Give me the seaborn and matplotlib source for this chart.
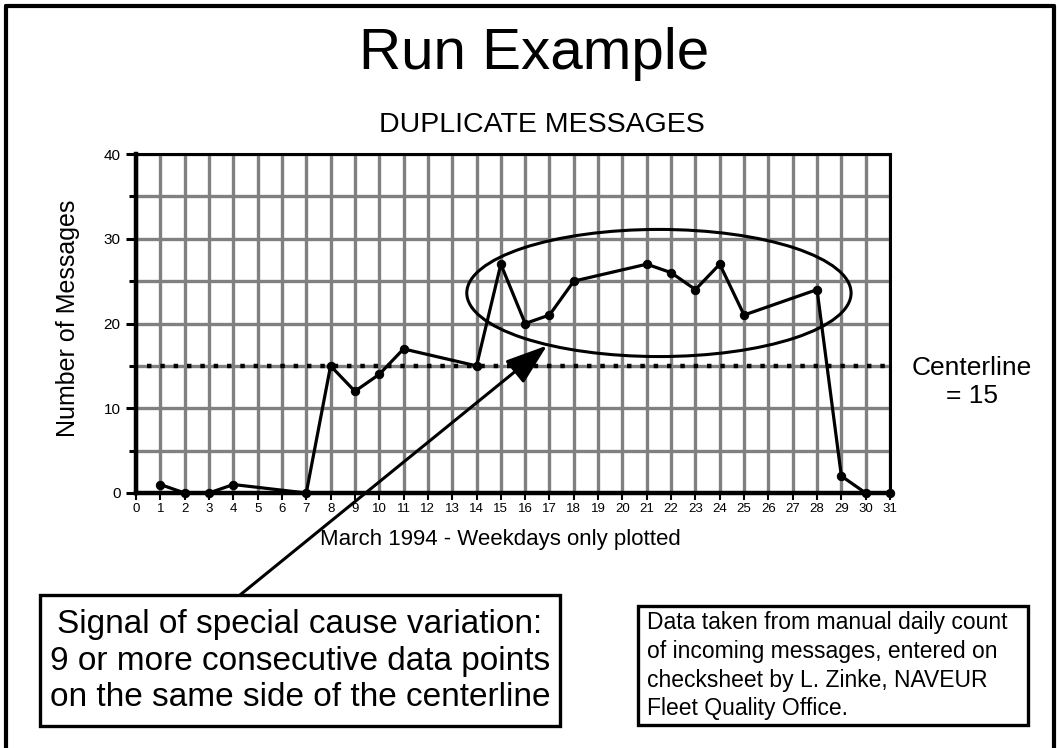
import numpy as np
import pandas as pd
import matplotlib
matplotlib.use("Agg")
import matplotlib.pyplot as plt
import seaborn as sns
from matplotlib.patches import Ellipse, Rectangle
from matplotlib.lines import Line2D

# ---- data ----
days = [1, 2, 3, 4, 7, 8, 9, 10, 11, 14, 15, 16, 17, 18, 21, 22, 23, 24, 25, 28, 29, 30, 31]
messages = [1, 0, 0, 1, 0, 15, 12, 14, 17, 15, 27, 20, 21, 25, 27, 26, 24, 27, 21, 24, 2, 0, 0]
centerline = 15
x_ticks = list(range(0, 32))
y_ticks = [0, 10, 20, 30, 40]
y_minor = [5, 15, 25, 35]

title = "Run Example"
subtitle = "DUPLICATE MESSAGES"
x_label = "March 1994 - Weekdays only plotted"
y_label = "Number of Messages"
center_text = "Centerline\n= 15"
signal_text = ["Signal of special cause variation:",
               "9 or more consecutive data points",
               "on the same side of the centerline"]
note_text = ["Data taken from manual daily count",
             "of incoming messages, entered on",
             "checksheet by L. Zinke, NAVEUR",
             "Fleet Quality Office."]

sns.set_theme(style="white")
plt.rcParams["font.family"] = ["Liberation Sans", "DejaVu Sans"]
plt.rcParams["text.color"] = "black"
plt.rcParams["axes.labelcolor"] = "black"
plt.rcParams["xtick.color"] = "black"
plt.rcParams["ytick.color"] = "black"

W, H = 1059, 748
fig = plt.figure(figsize=(W / 100, H / 100), dpi=100)
fig.patch.set_facecolor("white")

def fx(px):
    return px / W

def fy(py):
    return 1 - py / H

ax = fig.add_axes([fx(136), fy(493), fx(890) - fx(136), fy(154) - fy(493)])
df = pd.DataFrame({"day": days, "messages": messages})

ax.set_xlim(0, 31)
ax.set_ylim(0, 40)
ax.set_xticks(x_ticks)
ax.set_yticks(y_ticks)
ax.set_yticks(y_minor, minor=True)
ax.grid(True, which="major", axis="both", color="#808080", lw=2.4)
ax.grid(True, which="minor", axis="y", color="#808080", lw=2.4)
ax.set_axisbelow(True)

sns.lineplot(data=df, x="day", y="messages", ax=ax, color="black", lw=2.3,
             marker="o", markersize=6, markeredgecolor="black",
             markerfacecolor="black", clip_on=False, zorder=6)

# centerline
ax.plot([0.45, 31], [centerline, centerline], color="black", lw=3.2,
        linestyle=(0, (1, 2.0)), clip_on=False, zorder=4)

# ellipse around the run
ax.add_patch(Ellipse((21.5, 23.6), 15.8, 15.0, fill=False, edgecolor="black",
                     lw=2.2, zorder=5))

for side, lw in [("left", 3.2), ("bottom", 3.2), ("top", 2.2), ("right", 2.2)]:
    ax.spines[side].set_visible(True)
    ax.spines[side].set_color("black")
    ax.spines[side].set_linewidth(lw)

ax.tick_params(axis="x", which="major", direction="out", length=5, width=1.5,
               colors="black", labelsize=9.5, pad=2, bottom=True)
ax.tick_params(axis="y", which="major", direction="out", length=7, width=2.2,
               colors="black", labelsize=11, pad=4, left=True)
ax.tick_params(axis="y", which="minor", direction="out", length=5, width=2.2,
               colors="black", left=True)

ax.set_xlabel("")
ax.set_ylabel("")

fig.text(fx(500), fy(540), x_label, fontsize=16, ha="center", va="center",
         color="black")
fig.text(fx(68), fy(318), y_label, fontsize=18, ha="center", va="center",
         rotation=90, color="black")
fig.text(fx(534), fy(69), title, fontsize=42, ha="center", va="baseline",
         color="black")
fig.text(fx(542), fy(132), subtitle, fontsize=20.5, ha="center", va="baseline",
         color="black")
fig.text(fx(972), fy(382), center_text, fontsize=19, ha="center", va="center",
         linespacing=1.25, color="black")

# arrow from the signal box to the run
ax.annotate("", xy=(16.9, 17.4), xycoords="data",
            xytext=(fx(240), fy(595)), textcoords="figure fraction",
            arrowprops=dict(arrowstyle="-|>,head_length=1.3,head_width=0.45",
                            lw=2.2, color="black", mutation_scale=20,
                            shrinkA=0, shrinkB=0),
            annotation_clip=False, zorder=7)

# signal box
fig.patches.append(Rectangle((fx(40), fy(726)), fx(560) - fx(40), fy(595) - fy(726),
                             transform=fig.transFigure, fill=False,
                             edgecolor="black", lw=2.4))
for i, line in enumerate(signal_text):
    fig.text(fx(300), fy(625 + 36.5 * i), line, fontsize=24, ha="center",
             va="center", color="black")

# note box
fig.patches.append(Rectangle((fx(638), fy(725)), fx(1028) - fx(638), fy(606) - fy(725),
                             transform=fig.transFigure, fill=False,
                             edgecolor="black", lw=2.4))
for i, line in enumerate(note_text):
    fig.text(fx(647), fy(623 + 28.5 * i), line, fontsize=16.5, ha="left",
             va="center", color="black")

# slide frame
for xs, ys in [([6, 6], [6, 760]), ([6, 1054], [6, 6]), ([1054, 1054], [6, 760])]:
    fig.lines.append(Line2D([fx(x) for x in xs], [fy(y) for y in ys],
                            transform=fig.transFigure, color="black", lw=3))

fig.savefig("out.png", dpi=100, facecolor="white")
